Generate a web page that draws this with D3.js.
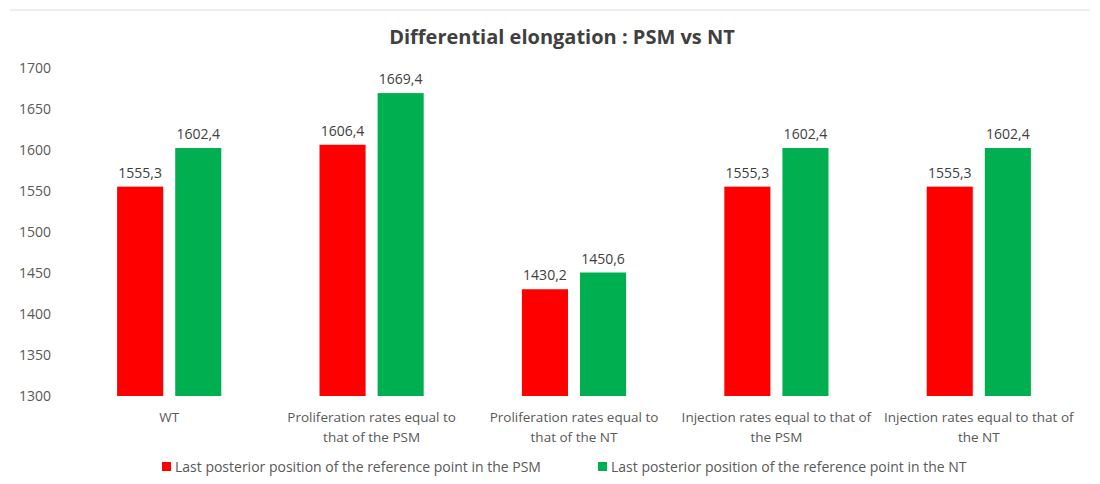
<!DOCTYPE html>
<html>
<head>
<meta charset="utf-8">
<script src="https://cdn.jsdelivr.net/npm/d3@7"></script>
<style>
  html, body { margin: 0; padding: 0; background: #fff; }
  svg { display: block; font-family: "Open Sans", Lato, sans-serif; }
</style>
</head>
<body>
<svg id="chart" width="1100" height="484"></svg>
<script>
// Category labels, already split into the lines they are drawn on
const categories = [
  ["WT"],
  ["Proliferation rates equal to", "that of the PSM"],
  ["Proliferation rates equal to", "that of the NT"],
  ["Injection rates equal to that of", "the PSM"],
  ["Injection rates equal to that of", "the NT"]
];
const seriesNames = [
  "Last posterior position of the reference point in the PSM",
  "Last posterior position of the reference point in the NT"
];
const psmValues = [1555.3, 1606.4, 1430.2, 1555.3, 1555.3];
const ntValues  = [1602.4, 1669.4, 1450.6, 1602.4, 1602.4];
const yTicks = [1300, 1350, 1400, 1450, 1500, 1550, 1600, 1650, 1700];
const colors = ["#ff0000", "#00b050"];

const FONT = "'Open Sans', Lato, sans-serif";
const svg = d3.select("#chart");
const fmt = v => d3.format(".1f")(v).replace(".", ",");

// faint frame line along the top of the chart area
svg.append("line")
  .attr("x1", 10).attr("x2", 1090).attr("y1", 10).attr("y2", 10)
  .attr("stroke", "#e8e8e8").attr("stroke-width", 1.5);

svg.append("text")
  .attr("x", 562).attr("y", 44)
  .attr("text-anchor", "middle")
  .attr("font-size", 20).attr("font-weight", "bold")
  .attr("fill", "#404040")
  .text("Differential elongation : PSM vs NT");

const keys = categories.map((c, i) => i);
const x0 = d3.scaleBand().domain(keys).range([68, 1080]).padding(0);
const x1 = d3.scaleBand().domain([0, 1]).range([0, x0.bandwidth()])
  .paddingInner(0.207).paddingOuter(0.845);
const y = d3.scaleLinear().domain([1300, 1700]).range([396, 68]);

// y axis: labels only, no line or ticks
const yAxis = svg.append("g")
  .attr("transform", "translate(53,0)")
  .call(d3.axisLeft(y).tickValues(yTicks).tickFormat(d3.format("d"))
    .tickSize(0).tickPadding(2));
yAxis.select(".domain").remove();
yAxis.selectAll("text")
  .attr("font-family", FONT)
  .attr("font-size", 14).attr("fill", "#595959");

const rows = keys.map(i => ({ i, vals: [psmValues[i], ntValues[i]] }));

const groups = svg.append("g").selectAll("g")
  .data(rows).join("g")
  .attr("transform", d => `translate(${x0(d.i)},0)`);

groups.selectAll("rect")
  .data(d => d.vals.map((v, s) => ({ v, s })))
  .join("rect")
  .attr("x", d => x1(d.s))
  .attr("width", x1.bandwidth())
  .attr("y", d => y(d.v))
  .attr("height", d => y(1300) - y(d.v))
  .attr("fill", d => colors[d.s]);

groups.selectAll("text.val")
  .data(d => d.vals.map((v, s) => ({ v, s })))
  .join("text")
  .attr("class", "val")
  .attr("x", d => x1(d.s) + x1.bandwidth() / 2)
  .attr("y", d => y(d.v) - 9)
  .attr("text-anchor", "middle")
  .attr("font-size", 14).attr("fill", "#404040")
  .text(d => fmt(d.v));

// category labels under the bars
groups.append("text")
  .attr("text-anchor", "middle")
  .attr("font-size", 13.5).attr("fill", "#595959")
  .selectAll("tspan")
  .data(d => categories[d.i])
  .join("tspan")
  .attr("x", x0.bandwidth() / 2)
  .attr("y", (d, k) => 422 + k * 20)
  .text(d => d);

// legend
const legendX = [162, 598];
const legend = svg.append("g").selectAll("g")
  .data(seriesNames).join("g")
  .attr("transform", (d, i) => `translate(${legendX[i]},467)`);
legend.append("rect")
  .attr("x", 0).attr("y", -5).attr("width", 9).attr("height", 9)
  .attr("fill", (d, i) => colors[i]);
legend.append("text")
  .attr("x", 13).attr("y", 5)
  .attr("font-size", 14).attr("fill", "#595959")
  .text(d => d);
</script>
</body>
</html>
